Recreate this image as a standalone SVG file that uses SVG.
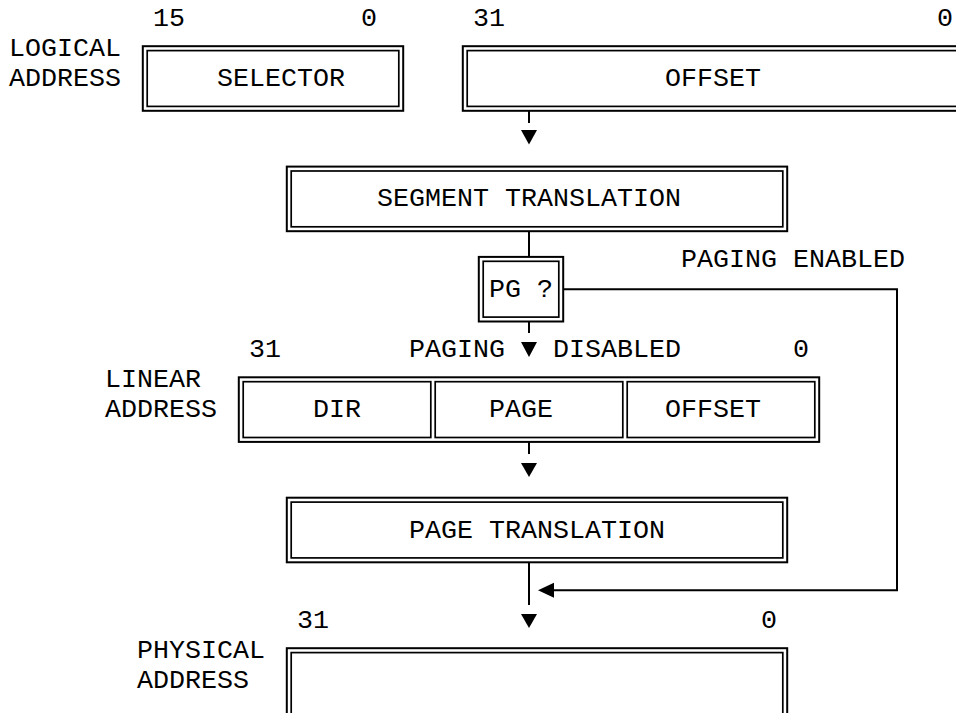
<svg xmlns="http://www.w3.org/2000/svg" width="956" height="713" viewBox="0 0 956 713">
<style>
text{font-family:"Liberation Mono","Courier New",monospace;font-size:26.67px;fill:#000}
.o{fill:none;stroke:#000;stroke-width:2}
.i{fill:none;stroke:#000;stroke-width:1.7}
.ln{fill:none;stroke:#000;stroke-width:2}
.ah{fill:#000;stroke:none}
</style>
<rect width="956" height="713" fill="#fff"/>
<g id="labels">
<text x="153" y="25.8">15</text>
<text x="361" y="25.8">0</text>
<text x="473" y="25.8">31</text>
<text x="937" y="25.8">0</text>
<text x="9" y="55.9">LOGICAL</text>
<text x="9" y="86">ADDRESS</text>
<text x="681" y="266.6">PAGING ENABLED</text>
<text x="249" y="356.9">31</text>
<text x="409" y="356.9">PAGING</text>
<text x="553" y="356.9">DISABLED</text>
<text x="793" y="356.9">0</text>
<text x="105" y="387">LINEAR</text>
<text x="105" y="417.1">ADDRESS</text>
<text x="297" y="627.8">31</text>
<text x="761" y="627.8">0</text>
<text x="137" y="657.9">PHYSICAL</text>
<text x="137" y="688">ADDRESS</text>
</g>
<g id="selector">
<rect class="o" x="142.8" y="46.2" width="260.4" height="64.6"/>
<rect class="i" x="147.2" y="50.6" width="251.6" height="55.8"/>
<text x="217" y="86">SELECTOR</text>
</g>
<g id="offset">
<rect class="o" x="462.8" y="46.2" width="560" height="64.6"/>
<rect class="i" x="467.2" y="50.6" width="560" height="55.8"/>
<text x="665" y="86">OFFSET</text>
</g>
<g id="segment-translation">
<rect class="o" x="286.8" y="166.6" width="500.4" height="64.6"/>
<rect class="i" x="291.2" y="171" width="491.6" height="55.8"/>
<text x="377" y="206.4">SEGMENT TRANSLATION</text>
</g>
<g id="pg">
<rect class="o" x="478.8" y="256.9" width="84.4" height="64.6"/>
<rect class="i" x="483.2" y="261.3" width="75.6" height="55.8"/>
<text x="489" y="296.7">PG ?</text>
</g>
<g id="linear-address">
<rect class="o" x="238.8" y="377.3" width="580.4" height="64.6"/>
<rect class="i" x="243.2" y="381.7" width="187.6" height="55.8"/>
<rect class="i" x="435.2" y="381.7" width="187.6" height="55.8"/>
<rect class="i" x="627.2" y="381.7" width="187.6" height="55.8"/>
<text x="313" y="417.1">DIR</text>
<text x="489" y="417.1">PAGE</text>
<text x="665" y="417.1">OFFSET</text>
</g>
<g id="page-translation">
<rect class="o" x="286.8" y="497.7" width="500.4" height="64.6"/>
<rect class="i" x="291.2" y="502.1" width="491.6" height="55.8"/>
<text x="409" y="537.5">PAGE TRANSLATION</text>
</g>
<g id="physical-address">
<rect class="o" x="286.8" y="648.2" width="500.4" height="120"/>
<rect class="i" x="291.2" y="652.6" width="491.6" height="110"/>
</g>
<g id="connectors">
<line class="ln" x1="529" y1="110.8" x2="529" y2="123"/>
<polygon class="ah" points="521,130 537,130 529,144.5"/>
<line class="ln" x1="529" y1="231.2" x2="529" y2="256.9"/>
<line class="ln" x1="529" y1="321.5" x2="529" y2="333"/>
<polygon class="ah" points="521,342 537,342 529,357"/>
<line class="ln" x1="529" y1="441.9" x2="529" y2="454"/>
<polygon class="ah" points="521,463 537,463 529,477"/>
<line class="ln" x1="529" y1="562.3" x2="529" y2="605"/>
<polygon class="ah" points="521,614 537,614 529,628"/>
<polyline class="ln" points="563.2,289.2 897,289.2 897,590.2 553,590.2"/>
<polygon class="ah" points="538,590.2 554,582.7 554,597.7"/>
</g>
</svg>
